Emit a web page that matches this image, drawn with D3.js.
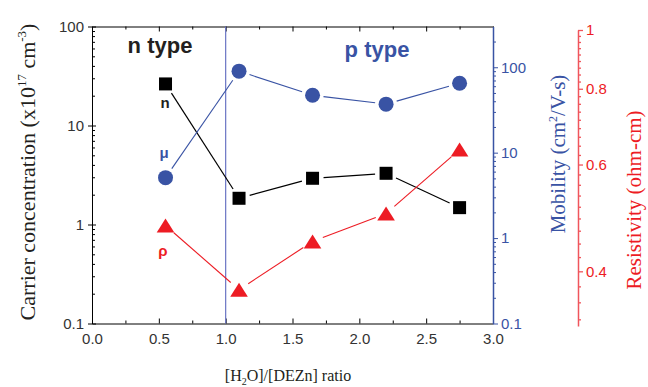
<!DOCTYPE html>
<html>
<head>
<meta charset="utf-8">
<script src="https://cdn.jsdelivr.net/npm/d3@7"></script>
<style>
  body { margin: 0; background: white; }
  text { font-family: "Liberation Sans", Arial, sans-serif; }
  .serif { font-family: "Liberation Serif", "Times New Roman", serif; }
</style>
</head>
<body>
<div id="chart"></div>
<script>
// data
const ratio = [0.55, 1.1, 1.65, 2.2, 2.75];
const carrier = [26.3, 1.84, 2.93, 3.29, 1.48];       // x10^17 cm^-3
const mobility = [5.1, 90, 47, 37, 65];               // cm2/V-s
const resistivity = [0.476, 0.373, 0.448, 0.498, 0.635]; // ohm-cm

const xTicks = [0, 0.5, 1.0, 1.5, 2.0, 2.5, 3.0];
const carrierTicks = [0.1, 1, 10, 100];
const mobilityTicks = [0.1, 1, 10, 100];
const resistivityTicks = [0.4, 0.6, 0.8, 1];

const blue = "#3953a4";
const red = "#ed1c24";

let width = 648, height = 387;

let svg = d3.select('#chart')
            .append('svg')
            .attr('width', width)
            .attr('height', height)
            .style('background', 'white');

// scales
const x = d3.scaleLinear().domain([0, 3]).range([92, 493]);
const yN = d3.scaleLog().domain([0.1, 100]).range([323.5, 26.5]);
const yMu = d3.scaleLog().domain([0.1, 300]).range([323.5, 26.5]);
const yRho = d3.scaleLog().domain([0.325, 1]).range([326, 30]);

// minor tick helpers
function logMinors(lo, hi) {
  let out = [];
  for (let p = Math.log10(lo); p < Math.log10(hi); p++) {
    for (let k = 2; k <= 9; k++) {
      let v = k * Math.pow(10, p);
      if (v < hi) out.push(v);
    }
  }
  return out;
}
const xMinor = d3.range(0.25, 3, 0.5);
const rhoMinor = [];
[[0.2, 0.4], [0.4, 0.6], [0.6, 0.8], [0.8, 1]].forEach(([a, b]) => {
  for (let k = 1; k <= 8; k++) {
    let v = a + k * (b - a) / 9;
    if (v > 0.325) rhoMinor.push(v);
  }
});

// frame: bottom / top / left in black
svg.append('g')
   .attr('transform', `translate(0, ${yN.range()[0]})`)
   .call(d3.axisBottom(x).tickValues(xTicks).tickFormat(d3.format('.1f')).tickSizeInner(-5).tickSizeOuter(0).tickPadding(10))
   .call(g => g.selectAll('text').attr('font-size', 15).attr('fill', '#333'));
svg.append('g')
   .attr('transform', `translate(0, ${yN.range()[0]})`)
   .call(d3.axisBottom(x).tickValues(xMinor).tickFormat('').tickSizeInner(-3).tickSizeOuter(0))
   .call(g => g.select('.domain').remove());

svg.append('g')
   .attr('transform', `translate(0, ${yN.range()[1]})`)
   .call(d3.axisTop(x).tickValues(xTicks).tickFormat('').tickSizeInner(-5).tickSizeOuter(0));
svg.append('g')
   .attr('transform', `translate(0, ${yN.range()[1]})`)
   .call(d3.axisTop(x).tickValues(xMinor).tickFormat('').tickSizeInner(-3).tickSizeOuter(0))
   .call(g => g.select('.domain').remove());

// left axis (carrier concentration)
svg.append('g')
   .attr('transform', `translate(${x(0)},0)`)
   .call(d3.axisLeft(yN).tickValues(carrierTicks).tickFormat(d3.format('~g')).tickSizeInner(4).tickSizeOuter(0).tickPadding(4))
   .call(g => g.selectAll('text').attr('font-size', 15).attr('fill', '#333'));
svg.append('g')
   .attr('transform', `translate(${x(0)},0)`)
   .call(d3.axisLeft(yN).tickValues(carrierTicks).tickFormat('').tickSizeInner(-4).tickSizeOuter(0));
svg.append('g')
   .attr('transform', `translate(${x(0)},0)`)
   .call(d3.axisLeft(yN).tickValues(logMinors(0.1, 100)).tickFormat('').tickSizeInner(-3).tickSizeOuter(0))
   .call(g => g.select('.domain').remove());

// mobility axis (blue) on the right of the frame
let muAxis = svg.append('g')
   .attr('transform', `translate(${x(3)},0)`)
   .call(d3.axisRight(yMu).tickValues(mobilityTicks).tickFormat(d3.format('~g')).tickSizeInner(5).tickSizeOuter(0).tickPadding(3));
svg.append('g')
   .attr('transform', `translate(${x(3)},0)`)
   .call(d3.axisRight(yMu).tickValues(logMinors(0.1, 300)).tickFormat('').tickSizeInner(3).tickSizeOuter(0))
   .call(g => g.select('.domain').remove())
   .selectAll('line').attr('stroke', blue);
muAxis.select('.domain').attr('stroke', blue).attr('stroke-width', 1.5);
muAxis.selectAll('line').attr('stroke', blue);
muAxis.selectAll('text').attr('font-size', 15).attr('fill', blue);

// resistivity axis (red), offset
const rhoX = 578;
let rhoAxis = svg.append('g')
   .attr('transform', `translate(${rhoX},0)`)
   .call(d3.axisRight(yRho).tickValues(resistivityTicks).tickFormat(d3.format('~g')).tickSizeInner(5).tickSizeOuter(0).tickPadding(3));
svg.append('g')
   .attr('transform', `translate(${rhoX},0)`)
   .call(d3.axisRight(yRho).tickValues(rhoMinor).tickFormat('').tickSizeInner(3).tickSizeOuter(0))
   .call(g => g.select('.domain').remove())
   .selectAll('line').attr('stroke', '#f0555c').attr('stroke-width', 1.3);
rhoAxis.select('.domain').attr('stroke', '#f0555c').attr('stroke-width', 1.5);
rhoAxis.selectAll('line').attr('stroke', '#f0555c').attr('stroke-width', 1.3);
rhoAxis.selectAll('text').attr('font-size', 15).attr('fill', red);

// n / p divider at ratio 1.0
svg.append('line')
   .attr('x1', x(1)).attr('x2', x(1))
   .attr('y1', yN.range()[1]).attr('y2', yN.range()[0])
   .attr('stroke', '#6a74c4')
   .attr('stroke-width', 1.2);

// series lines with a little gap before each marker
function gapLine(yScale, values, color, gap, w) {
  for (let i = 0; i < values.length - 1; i++) {
    let x0 = x(ratio[i]), y0 = yScale(values[i]);
    let x1 = x(ratio[i + 1]), y1 = yScale(values[i + 1]);
    let len = Math.hypot(x1 - x0, y1 - y0);
    let ux = (x1 - x0) / len, uy = (y1 - y0) / len;
    svg.append('line')
       .attr('x1', x0 + ux * gap).attr('y1', y0 + uy * gap)
       .attr('x2', x1 - ux * gap).attr('y2', y1 - uy * gap)
       .attr('stroke', color)
       .attr('stroke-width', w);
  }
}
gapLine(yN, carrier, 'black', 11, 1.2);
gapLine(yMu, mobility, blue, 11, 1.1);
gapLine(yRho, resistivity, red, 11, 1.1);

// markers
svg.selectAll('.sq')
   .data(ratio)
   .enter()
   .append('rect')
   .attr('x', (d, i) => x(d) - 6.5)
   .attr('y', (d, i) => yN(carrier[i]) - 6.5)
   .attr('width', 13)
   .attr('height', 13)
   .attr('fill', 'black');

svg.selectAll('.dot')
   .data(ratio)
   .enter()
   .append('circle')
   .attr('cx', d => x(d))
   .attr('cy', (d, i) => yMu(mobility[i]))
   .attr('r', 7.5)
   .attr('fill', blue);

svg.selectAll('.tri')
   .data(ratio)
   .enter()
   .append('path')
   .attr('d', 'M0,-7L8.8,7L-8.8,7Z')
   .attr('transform', (d, i) => `translate(${x(d)},${yRho(resistivity[i])})`)
   .attr('fill', red);

// annotations
svg.append('text').attr('x', 160).attr('y', 53).attr('text-anchor', 'middle')
   .attr('font-size', 22).attr('font-weight', 'bold').attr('fill', '#231f20').text('n type');
svg.append('text').attr('x', 377).attr('y', 57).attr('text-anchor', 'middle')
   .attr('font-size', 22).attr('font-weight', 'bold').attr('fill', blue).text('p type');
svg.append('text').attr('x', 165).attr('y', 108).attr('text-anchor', 'middle')
   .attr('font-size', 15).attr('font-weight', 'bold').attr('fill', '#231f20').text('n');
svg.append('text').attr('x', 164).attr('y', 158).attr('text-anchor', 'middle')
   .attr('font-size', 15).attr('font-weight', 'bold').attr('fill', blue).text('μ');
svg.append('text').attr('x', 163).attr('y', 256).attr('text-anchor', 'middle')
   .attr('font-size', 15).attr('font-weight', 'bold').attr('fill', red).text('ρ');

// axis titles
let yl = svg.append('text').attr('class', 'serif')
   .attr('transform', 'translate(35,172) rotate(-90)')
   .attr('text-anchor', 'middle').attr('font-size', 22).attr('fill', '#231f20');
yl.append('tspan').text('Carrier concentration (x10');
yl.append('tspan').attr('dy', -9).attr('font-size', 13).text('17');
yl.append('tspan').attr('dy', 9).text(' cm');
yl.append('tspan').attr('dy', -9).attr('font-size', 13).text('-3');
yl.append('tspan').attr('dy', 9).text(')');

let ml = svg.append('text').attr('class', 'serif')
   .attr('transform', 'translate(565,154) rotate(-90)')
   .attr('text-anchor', 'middle').attr('font-size', 21).attr('fill', blue);
ml.append('tspan').text('Mobility (cm');
ml.append('tspan').attr('dy', -8).attr('font-size', 12).text('2');
ml.append('tspan').attr('dy', 8).text('/V-s)');

svg.append('text').attr('class', 'serif')
   .attr('transform', 'translate(641,200) rotate(-90)')
   .attr('text-anchor', 'middle').attr('font-size', 21).attr('fill', red)
   .text('Resistivity (ohm-cm)');

let xl = svg.append('text').attr('class', 'serif')
   .attr('x', 288).attr('y', 381)
   .attr('text-anchor', 'middle').attr('font-size', 16).attr('fill', '#231f20');
xl.append('tspan').text('[H');
xl.append('tspan').attr('dy', 4).attr('font-size', 10).text('2');
xl.append('tspan').attr('dy', -4).text('O]/[DEZn] ratio');
</script>
</body>
</html>
